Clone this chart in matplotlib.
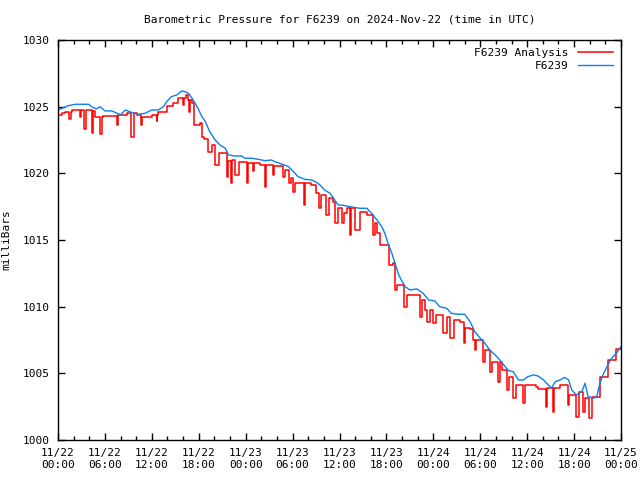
import matplotlib
matplotlib.use("Agg")
import matplotlib.pyplot as plt
import numpy as np

# station readings, hours since 11/22 00:00 UTC
blue_hours = [0.0, 1.3, 2.2, 3.9, 4.3, 4.9, 5.4, 6.0, 6.9, 8.0, 8.6, 9.4, 10.3, 11.1,
              12.0, 12.8, 13.5, 13.9, 14.5, 15.2, 15.8, 16.2, 16.7, 17.3, 17.9, 18.4,
              18.8, 19.4, 20.1, 20.7, 21.4, 21.8, 22.6, 23.5, 23.9, 24.8, 25.6, 26.5,
              27.3, 27.7, 28.6, 29.5, 30.1, 30.7, 31.6, 32.4, 32.9, 33.5, 34.1, 34.8,
              35.4, 35.8, 36.5, 37.3, 38.6, 39.5, 40.1, 40.8, 41.4, 41.8, 42.2, 42.7,
              43.1, 43.5, 43.9, 44.4, 45.0, 45.9, 46.7, 47.4, 48.2, 48.8, 49.7, 50.3,
              51.2, 52.0, 52.7, 53.3, 54.0, 54.6, 55.2, 55.9, 56.5, 57.2, 57.6, 58.2,
              58.9, 59.5, 60.1, 60.8, 61.4, 62.1, 62.7, 63.1, 63.6, 64.2, 64.8, 65.3,
              65.7, 66.3, 67.0, 67.4, 67.8, 68.5, 68.9, 69.3, 69.7, 70.2, 70.8, 71.4, 72.0]
blue_vals = [1024.75, 1025.07, 1025.18, 1025.18, 1025.0, 1024.83, 1025.0, 1024.68, 1024.68,
             1024.38, 1024.75, 1024.57, 1024.43, 1024.5, 1024.75, 1024.75, 1025.0, 1025.38,
             1025.75, 1025.88, 1026.18, 1026.13, 1026.0, 1025.5, 1024.88, 1024.25, 1023.93,
             1023.13, 1022.5, 1022.13, 1021.88, 1021.38, 1021.3, 1021.3, 1021.13, 1021.13,
             1021.05, 1020.95, 1021.0, 1020.88, 1020.7, 1020.5, 1020.13, 1019.75, 1019.55,
             1019.5, 1019.38, 1019.13, 1018.75, 1018.5, 1018.0, 1017.63, 1017.6, 1017.5,
             1017.38, 1017.38, 1017.0, 1016.5, 1016.0, 1015.5, 1014.75, 1014.0, 1013.25,
             1012.5, 1012.0, 1011.5, 1011.25, 1011.33, 1011.0, 1010.5, 1010.43, 1010.0,
             1009.88, 1009.5, 1009.43, 1009.43, 1008.88, 1008.13, 1007.63, 1007.25, 1006.75,
             1006.38, 1006.0, 1005.5, 1005.2, 1005.13, 1004.5, 1004.5, 1004.75, 1004.88,
             1004.8, 1004.5, 1004.13, 1003.88, 1004.38, 1004.5, 1004.7, 1004.5, 1003.75,
             1003.38, 1003.63, 1004.25, 1003.25, 1003.13, 1003.25, 1004.25, 1004.88, 1005.5,
             1006.13, 1006.5, 1007.0]

# analysis values (step changes)
red_hours = [0.0, 0.5, 0.9, 1.45, 1.6, 1.8, 2.8, 2.95, 3.35, 3.55, 4.3, 4.5, 4.75, 5.4,
             5.65, 5.8, 7.6, 7.7, 8.8, 9.35, 9.7, 10.1, 10.6, 10.7, 12.0, 12.6, 12.7,
             12.85, 13.9, 14.75, 15.4, 16.0, 16.1, 16.35, 16.67, 16.75, 16.85, 17.1, 17.45,
             18.15, 18.4, 18.7, 19.2, 19.65, 20.1, 20.6, 21.6, 21.8, 22.1, 22.2, 22.6, 23.1,
             24.2, 24.3, 25.0, 25.1, 25.8, 26.5, 26.6, 27.5, 27.6, 28.8, 29.0, 29.6, 29.8,
             30.1, 30.3, 31.5, 31.6, 32.4, 33.0, 33.4, 33.6, 34.3, 34.6, 35.2, 35.4, 35.75,
             36.3, 36.6, 37.0, 37.4, 37.5, 38.0, 38.6, 39.5, 40.3, 40.5, 40.75, 41.2, 42.0,
             42.3, 42.9, 43.1, 43.3, 44.2, 44.6, 46.3, 46.5, 46.9, 47.2, 47.6, 48.0, 48.4,
             49.2, 49.7, 50.1, 50.6, 51.4, 51.9, 52.0, 52.7, 53.1, 53.3, 53.5, 54.3, 54.6,
             55.2, 55.5, 56.3, 56.5, 56.75, 57.4, 57.7, 58.2, 58.6, 59.5, 59.7, 61.1, 61.4,
             62.4, 62.6, 63.3, 63.4, 64.2, 65.2, 65.4, 66.3, 66.6, 67.2, 67.4, 67.9, 68.3,
             69.3, 70.4, 71.3, 72.0]
red_vals = [1024.38, 1024.5, 1024.63, 1024.1, 1024.63, 1024.75, 1024.2, 1024.75, 1023.3,
            1024.75, 1023.0, 1024.7, 1024.25, 1022.95, 1024.25, 1024.3, 1023.6, 1024.38,
            1024.5, 1022.75, 1024.5, 1024.4, 1023.6, 1024.25, 1024.38, 1023.9, 1024.38,
            1024.63, 1025.07, 1025.25, 1025.63, 1025.1, 1025.63, 1025.88, 1025.5, 1024.63,
            1025.5, 1025.25, 1023.63, 1023.8, 1022.75, 1022.6, 1021.6, 1022.1, 1020.63,
            1021.5, 1019.75, 1020.95, 1019.25, 1021.0, 1019.9, 1020.88, 1019.25, 1020.75,
            1020.2, 1020.75, 1020.63, 1019.0, 1020.63, 1019.9, 1020.55, 1019.75, 1020.25,
            1019.25, 1019.63, 1018.63, 1019.25, 1017.63, 1019.25, 1019.13, 1018.5, 1017.38,
            1018.38, 1016.88, 1018.13, 1017.88, 1016.25, 1017.38, 1016.25, 1017.0, 1017.38,
            1015.4, 1017.38, 1015.75, 1017.1, 1016.9, 1015.4, 1016.25, 1015.5, 1014.63,
            1014.63, 1013.1, 1013.3, 1011.25, 1011.63, 1010.0, 1010.88, 1009.25, 1010.5,
            1009.75, 1008.88, 1009.75, 1008.75, 1009.38, 1008.0, 1009.25, 1007.63, 1009.0,
            1008.88, 1007.25, 1008.4, 1008.3, 1007.5, 1006.75, 1007.5, 1005.88, 1006.75,
            1005.13, 1005.88, 1004.38, 1005.88, 1005.25, 1003.75, 1004.75, 1003.13, 1004.13,
            1002.75, 1004.13, 1004.0, 1003.8, 1002.5, 1003.88, 1002.13, 1003.88, 1004.13,
            1002.63, 1003.38, 1001.75, 1003.63, 1002.13, 1003.13, 1001.63, 1003.25, 1004.75,
            1006.0, 1006.8, 1006.8]

tick_hours = [0, 6, 12, 18, 24, 30, 36, 42, 48, 54, 60, 66, 72]
tick_labels = ["11/22\n00:00", "11/22\n06:00", "11/22\n12:00", "11/22\n18:00",
               "11/23\n00:00", "11/23\n06:00", "11/23\n12:00", "11/23\n18:00",
               "11/24\n00:00", "11/24\n06:00", "11/24\n12:00", "11/24\n18:00",
               "11/25\n00:00"]

plt.rcParams['font.family'] = ['DejaVu Sans Mono']
plt.rcParams['font.size'] = 8

fig = plt.figure(figsize=(6.4, 4.8), dpi=100)
ax = fig.add_axes([58 / 640, 40 / 480, 563 / 640, 400 / 480])

ax.step(red_hours, red_vals, where='post', color='#ff0000', lw=1.1, label='F6239 Analysis')
ax.plot(blue_hours, blue_vals, color='#0a80f0', lw=1.0, label='F6239')

ax.set_xlim(0, 72)
ax.set_ylim(1000, 1030)
ax.set_xticks(tick_hours)
ax.set_xticklabels(tick_labels)
ax.set_xticks(np.arange(0, 73, 2), minor=True)
ax.set_yticks(np.arange(1000, 1031, 5))
ax.tick_params(which='both', direction='in', top=True, right=True, width=1, color='black')
ax.tick_params(which='major', length=5, pad=6)
ax.tick_params(which='minor', length=3)
ax.tick_params(axis='y', pad=6)
for s in ax.spines.values():
    s.set_linewidth(1)

ax.set_ylabel('milliBars', labelpad=8)
fig.suptitle('Barometric Pressure for F6239 on 2024-Nov-22 (time in UTC)',
             x=339.5 / 640, y=1 - 14 / 480, fontsize=8, va='top')

ax.legend(loc='upper right', frameon=False, markerfirst=False, handlelength=3.2,
          handletextpad=0.8, labelspacing=0.25, borderaxespad=0.3)

fig.savefig('out.png', dpi=100)
